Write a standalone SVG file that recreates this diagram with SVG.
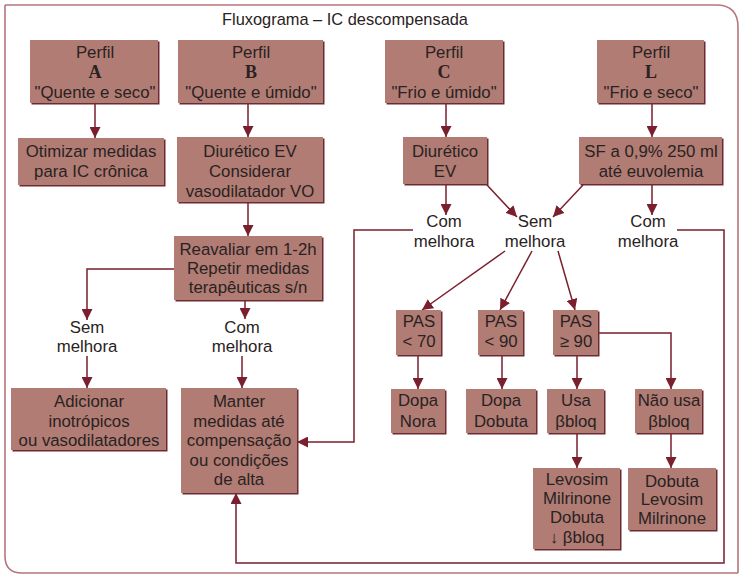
<svg xmlns="http://www.w3.org/2000/svg" width="739" height="574" viewBox="0 0 739 574">
  <style>
    .frame { fill: none; stroke: #b5767c; stroke-width: 1.6; }
    .box { fill: #b07c74; }
    .shadow { fill: #6e2a33; }
    .t { font-family: "Liberation Sans", Arial, sans-serif; font-size: 16.8px; fill: #2a2222; text-anchor: middle; }
    .b { font-family: "Liberation Serif", "Times New Roman", serif; font-weight: bold; font-size: 18px; }
    .title { font-family: "Liberation Sans", Arial, sans-serif; font-size: 16.4px; fill: #2a2222; text-anchor: middle; }
    .c { fill: none; stroke: #7a1f2d; stroke-width: 1.5; }
  </style>
  <defs>
    <marker id="arr" markerUnits="userSpaceOnUse" markerWidth="12" markerHeight="11" refX="11" refY="5.5" orient="auto">
      <path d="M0,0 L11,5.5 L0,11 Z" fill="#7a1f2d"/>
    </marker>
  </defs>

  <rect width="739" height="574" fill="#ffffff"/>

  <!-- outer frame: square top-left, rounded top-right and bottom-left -->
  <path class="frame" d="M5,5 H716 Q738,5 738,27 V573 M738,573 H22 Q5,573 5,556 V5"/>
  <text class="title" x="345" y="25">Fluxograma – IC descompensada</text>

  <!-- connectors -->
  <g id="connectors">
    <path class="c" d="M95,103 V138" marker-end="url(#arr)"/>
    <path class="c" d="M248,103 V137" marker-end="url(#arr)"/>
    <path class="c" d="M446,104 V137" marker-end="url(#arr)"/>
    <path class="c" d="M652,104 V137" marker-end="url(#arr)"/>
    <path class="c" d="M248,202 V236" marker-end="url(#arr)"/>
    <path class="c" d="M174,269 H87 V320" marker-end="url(#arr)"/>
    <path class="c" d="M245,300 V319" marker-end="url(#arr)"/>
    <path class="c" d="M87,356 V388" marker-end="url(#arr)"/>
    <path class="c" d="M242,356 V388" marker-end="url(#arr)"/>
    <path class="c" d="M446,185 V215" marker-end="url(#arr)"/>
    <path class="c" d="M487,185 L517,217" marker-end="url(#arr)"/>
    <path class="c" d="M583,185 L553,217" marker-end="url(#arr)"/>
    <path class="c" d="M652,185 V215" marker-end="url(#arr)"/>
    <path class="c" d="M413,230 H354 V442 H297" marker-end="url(#arr)"/>
    <path class="c" d="M677,230 H724 V563 H236 V493" marker-end="url(#arr)"/>
    <path class="c" d="M505,251 L422,310" marker-end="url(#arr)"/>
    <path class="c" d="M532,251 L500,310" marker-end="url(#arr)"/>
    <path class="c" d="M558,251 L575,310" marker-end="url(#arr)"/>
    <path class="c" d="M418,355 V389" marker-end="url(#arr)"/>
    <path class="c" d="M502,355 V389" marker-end="url(#arr)"/>
    <path class="c" d="M577,355 V389" marker-end="url(#arr)"/>
    <path class="c" d="M598,333 H671 V389" marker-end="url(#arr)"/>
    <path class="c" d="M577,433 V468" marker-end="url(#arr)"/>
    <path class="c" d="M671,433 V468" marker-end="url(#arr)"/>
  </g>

  <!-- profile boxes -->
  <g id="perfil-a">
    <rect class="shadow" x="31.5" y="41.5" width="128" height="63"/>
    <rect class="box" x="30" y="40" width="128" height="63"/>
    <text class="t" x="95" y="58">Perfil</text>
    <text class="t b" x="95" y="78">A</text>
    <text class="t" x="95" y="98">"Quente e seco"</text>
  </g>
  <g id="perfil-b">
    <rect class="shadow" x="179.5" y="41.5" width="145" height="63"/>
    <rect class="box" x="178" y="40" width="145" height="63"/>
    <text class="t" x="251" y="58">Perfil</text>
    <text class="t b" x="251" y="78">B</text>
    <text class="t" x="251" y="98">"Quente e úmido"</text>
  </g>
  <g id="perfil-c">
    <rect class="shadow" x="386.5" y="41.5" width="118" height="63"/>
    <rect class="box" x="385" y="40" width="118" height="63"/>
    <text class="t" x="444" y="58">Perfil</text>
    <text class="t b" x="444" y="78">C</text>
    <text class="t" x="444" y="98">"Frio e úmido"</text>
  </g>
  <g id="perfil-l">
    <rect class="shadow" x="598.5" y="41.5" width="107" height="63"/>
    <rect class="box" x="597" y="40" width="107" height="63"/>
    <text class="t" x="651" y="58">Perfil</text>
    <text class="t b" x="651" y="78">L</text>
    <text class="t" x="651" y="98">"Frio e seco"</text>
  </g>

  <!-- first treatment step -->
  <g id="otimizar">
    <rect class="shadow" x="19.5" y="139.5" width="146" height="47"/>
    <rect class="box" x="18" y="138" width="146" height="47"/>
    <text class="t" x="91" y="157">Otimizar medidas</text>
    <text class="t" x="91" y="177">para IC crônica</text>
  </g>
  <g id="diuretico-b">
    <rect class="shadow" x="178.5" y="138.5" width="146" height="65"/>
    <rect class="box" x="177" y="137" width="146" height="65"/>
    <text class="t" x="250" y="157">Diurético EV</text>
    <text class="t" x="250" y="177">Considerar</text>
    <text class="t" x="250" y="197">vasodilatador VO</text>
  </g>
  <g id="diuretico-c">
    <rect class="shadow" x="404.5" y="138.5" width="84" height="47"/>
    <rect class="box" x="403" y="137" width="84" height="47"/>
    <text class="t" x="445" y="157">Diurético</text>
    <text class="t" x="445" y="177">EV</text>
  </g>
  <g id="soro">
    <rect class="shadow" x="580.5" y="138.5" width="143" height="47"/>
    <rect class="box" x="579" y="137" width="143" height="47"/>
    <text class="t" x="651" y="157">SF a 0,9% 250 ml</text>
    <text class="t" x="651" y="177">até euvolemia</text>
  </g>

  <!-- reassessment -->
  <g id="reavaliar">
    <rect class="shadow" x="175.5" y="237.5" width="148" height="64"/>
    <rect class="box" x="174" y="236" width="148" height="64"/>
    <text class="t" x="248" y="255">Reavaliar em 1-2h</text>
    <text class="t" x="248" y="274">Repetir medidas</text>
    <text class="t" x="248" y="293">terapêuticas s/n</text>
  </g>

  <!-- outcome labels -->
  <g id="sem-melhora-b">
    <text class="t" x="87" y="333">Sem</text>
    <text class="t" x="87" y="352">melhora</text>
  </g>
  <g id="com-melhora-b">
    <text class="t" x="242" y="333">Com</text>
    <text class="t" x="242" y="352">melhora</text>
  </g>
  <g id="com-melhora-c">
    <text class="t" x="444" y="227">Com</text>
    <text class="t" x="444" y="247">melhora</text>
  </g>
  <g id="sem-melhora-cl">
    <text class="t" x="535" y="227">Sem</text>
    <text class="t" x="535" y="247">melhora</text>
  </g>
  <g id="com-melhora-l">
    <text class="t" x="648" y="227">Com</text>
    <text class="t" x="648" y="247">melhora</text>
  </g>

  <g id="adicionar">
    <rect class="shadow" x="12.5" y="389.5" width="155" height="62"/>
    <rect class="box" x="11" y="388" width="155" height="62"/>
    <text class="t" x="89" y="407">Adicionar</text>
    <text class="t" x="89" y="427">inotrópicos</text>
    <text class="t" x="89" y="446">ou vasodilatadores</text>
  </g>
  <g id="manter">
    <rect class="shadow" x="182.5" y="389.5" width="116" height="105"/>
    <rect class="box" x="181" y="388" width="116" height="105"/>
    <text class="t" x="239" y="407">Manter</text>
    <text class="t" x="239" y="427">medidas até</text>
    <text class="t" x="239" y="446">compensação</text>
    <text class="t" x="239" y="466">ou condições</text>
    <text class="t" x="239" y="485">de alta</text>
  </g>

  <!-- blood pressure branches -->
  <g id="pas-70">
    <rect class="shadow" x="397.5" y="311.5" width="45" height="45"/>
    <rect class="box" x="396" y="310" width="45" height="45"/>
    <text class="t" x="419" y="327">PAS</text>
    <text class="t" x="419" y="347">&lt; 70</text>
  </g>
  <g id="pas-90">
    <rect class="shadow" x="479.5" y="311.5" width="45" height="45"/>
    <rect class="box" x="478" y="310" width="45" height="45"/>
    <text class="t" x="501" y="327">PAS</text>
    <text class="t" x="501" y="347">&lt; 90</text>
  </g>
  <g id="pas-ge90">
    <rect class="shadow" x="554.5" y="311.5" width="45" height="45"/>
    <rect class="box" x="553" y="310" width="45" height="45"/>
    <text class="t" x="576" y="327">PAS</text>
    <text class="t" x="576" y="347">≥ 90</text>
  </g>

  <g id="dopa-nora">
    <rect class="shadow" x="392.5" y="390.5" width="54" height="44"/>
    <rect class="box" x="391" y="389" width="54" height="44"/>
    <text class="t" x="418" y="406">Dopa</text>
    <text class="t" x="418" y="427">Nora</text>
  </g>
  <g id="dopa-dobuta">
    <rect class="shadow" x="467.5" y="390.5" width="70" height="44"/>
    <rect class="box" x="466" y="389" width="70" height="44"/>
    <text class="t" x="501" y="406">Dopa</text>
    <text class="t" x="501" y="427">Dobuta</text>
  </g>
  <g id="usa-bbloq">
    <rect class="shadow" x="548.5" y="390.5" width="57" height="44"/>
    <rect class="box" x="547" y="389" width="57" height="44"/>
    <text class="t" x="576" y="406">Usa</text>
    <text class="t" x="576" y="427">βbloq</text>
  </g>
  <g id="nao-usa-bbloq">
    <rect class="shadow" x="636.5" y="390.5" width="67" height="44"/>
    <rect class="box" x="635" y="389" width="67" height="44"/>
    <text class="t" x="669" y="406">Não usa</text>
    <text class="t" x="669" y="427">βbloq</text>
  </g>

  <g id="levosim">
    <rect class="shadow" x="534.5" y="469.5" width="87" height="81"/>
    <rect class="box" x="533" y="468" width="87" height="81"/>
    <text class="t" x="577" y="485">Levosim</text>
    <text class="t" x="577" y="504">Milrinone</text>
    <text class="t" x="577" y="523">Dobuta</text>
    <text class="t" x="577" y="543">↓ βbloq</text>
  </g>
  <g id="dobuta">
    <rect class="shadow" x="629.5" y="469.5" width="88" height="62"/>
    <rect class="box" x="628" y="468" width="88" height="62"/>
    <text class="t" x="672" y="487">Dobuta</text>
    <text class="t" x="672" y="505">Levosim</text>
    <text class="t" x="672" y="524">Milrinone</text>
  </g>
</svg>
